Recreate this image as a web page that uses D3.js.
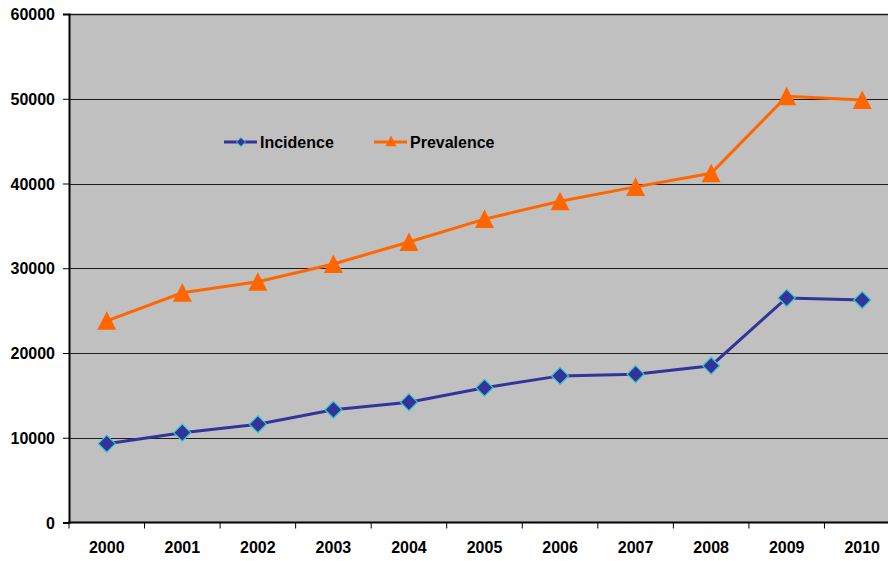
<!DOCTYPE html>
<html>
<head>
<meta charset="utf-8">
<script src="https://cdn.jsdelivr.net/npm/d3@7"></script>
<style>
  html, body { margin: 0; padding: 0; background: #ffffff; }
  svg { display: block; }
  text { font-family: Arial, "Liberation Sans", sans-serif; font-weight: bold; fill: #000; }
</style>
</head>
<body>
<svg id="chart" width="888" height="561"></svg>
<script>
// Years on the category axis
const years = ["2000", "2001", "2002", "2003", "2004", "2005", "2006", "2007", "2008", "2009", "2010"];
// Yearly counts per series
const incidence = [9300, 10600, 11600, 13300, 14200, 15900, 17300, 17500, 18500, 26500, 26250];
const prevalence = [23800, 27100, 28400, 30500, 33100, 35800, 37900, 39600, 41200, 50300, 49850];
// Value axis ticks
const yTicks = [0, 10000, 20000, 30000, 40000, 50000, 60000];

(function () {
const svg = d3.select("#chart");
const pLeft = 69, pRight = 900, pTop = 14, pBottom = 522.5;
const fontSize = "16px";

const x = d3.scaleBand().domain(years).range([pLeft, pRight]).padding(0);
const y = d3.scaleLinear().domain([0, 60000]).range([pBottom, pTop]);
const cx = d => x(d) + x.bandwidth() / 2;

// Plot background
svg.append("rect")
  .attr("x", pLeft).attr("y", pTop)
  .attr("width", pRight - pLeft).attr("height", pBottom - pTop)
  .attr("fill", "#c0c0c0");

// Horizontal gridlines
svg.append("g")
  .selectAll("line")
  .data(yTicks.filter(t => t > 0))
  .join("line")
  .attr("x1", pLeft).attr("x2", pRight)
  .attr("y1", d => Math.round(y(d)) + 0.5).attr("y2", d => Math.round(y(d)) + 0.5)
  .attr("stroke", "#000").attr("stroke-width", d => d === 60000 ? 1.6 : 1)
  .attr("stroke-opacity", 0.85);

// Y axis
const yAxis = d3.axisLeft(y).tickValues(yTicks).tickSize(6).tickPadding(8).tickFormat(d3.format("d"));
const gy = svg.append("g").attr("transform", `translate(${pLeft},0)`).call(yAxis);
gy.select(".domain").attr("stroke", "#000").attr("stroke-width", 2);
gy.selectAll(".tick line").attr("stroke", "#000").attr("stroke-width", 1);
gy.selectAll(".tick text").style("font-size", fontSize).style("font-family", "Arial, 'Liberation Sans', sans-serif").style("font-weight", "bold").attr("dy", "0.35em");

// X axis: ticks at category boundaries, labels centred
const gx = svg.append("g").attr("transform", `translate(0,${pBottom})`);
gx.append("line").attr("x1", pLeft - 1).attr("x2", pRight).attr("y1", 0).attr("y2", 0)
  .attr("stroke", "#000").attr("stroke-width", 2);
gx.selectAll("line.tk")
  .data(years.map(d => x(d)))
  .join("line").attr("class", "tk")
  .attr("x1", d => d).attr("x2", d => d).attr("y1", 0).attr("y2", 6)
  .attr("stroke", "#000").attr("stroke-width", 1);
gx.selectAll("text")
  .data(years)
  .join("text")
  .attr("x", d => cx(d)).attr("y", 30)
  .attr("text-anchor", "middle")
  .style("font-size", fontSize)
  .text(d => d);

const line = d3.line().x((d, i) => cx(years[i])).y(d => y(d));

// Incidence series
svg.append("path").datum(incidence).attr("d", line)
  .attr("fill", "none").attr("stroke", "#333399").attr("stroke-width", 3);
const diamond = s => `M0,${-s}L${s},0L0,${s}L${-s},0Z`;
svg.append("g").selectAll("path")
  .data(incidence).join("path")
  .attr("transform", (d, i) => `translate(${cx(years[i])},${y(d)})`)
  .attr("d", diamond(8.5))
  .attr("fill", "#333399").attr("stroke", "#33cccc").attr("stroke-width", 1.2);

// Prevalence series
svg.append("path").datum(prevalence).attr("d", line)
  .attr("fill", "none").attr("stroke", "#ff6600").attr("stroke-width", 3);
const tri = s => `M0,${-s}L${s},${s * 0.95}L${-s},${s * 0.95}Z`;
svg.append("g").selectAll("path")
  .data(prevalence).join("path")
  .attr("transform", (d, i) => `translate(${cx(years[i])},${y(d)})`)
  .attr("d", tri(9.5))
  .attr("fill", "#ff6600");

// Legend
const lg = svg.append("g").attr("transform", "translate(0,142)");
lg.append("line").attr("x1", 224).attr("x2", 257).attr("y1", 0).attr("y2", 0)
  .attr("stroke", "#333399").attr("stroke-width", 3);
lg.append("path").attr("transform", "translate(241,0)").attr("d", diamond(4.5))
  .attr("fill", "#333399").attr("stroke", "#33cccc").attr("stroke-width", 1);
lg.append("text").attr("x", 260).attr("y", 0).attr("dy", "0.35em").style("font-size", fontSize).text("Incidence");
lg.append("line").attr("x1", 374).attr("x2", 407).attr("y1", 0).attr("y2", 0)
  .attr("stroke", "#ff6600").attr("stroke-width", 3);
lg.append("path").attr("transform", "translate(391,-1)").attr("d", tri(5.5)).attr("fill", "#ff6600");
lg.append("text").attr("x", 410).attr("y", 0).attr("dy", "0.35em").style("font-size", fontSize).text("Prevalence");
})();
</script>
</body>
</html>
